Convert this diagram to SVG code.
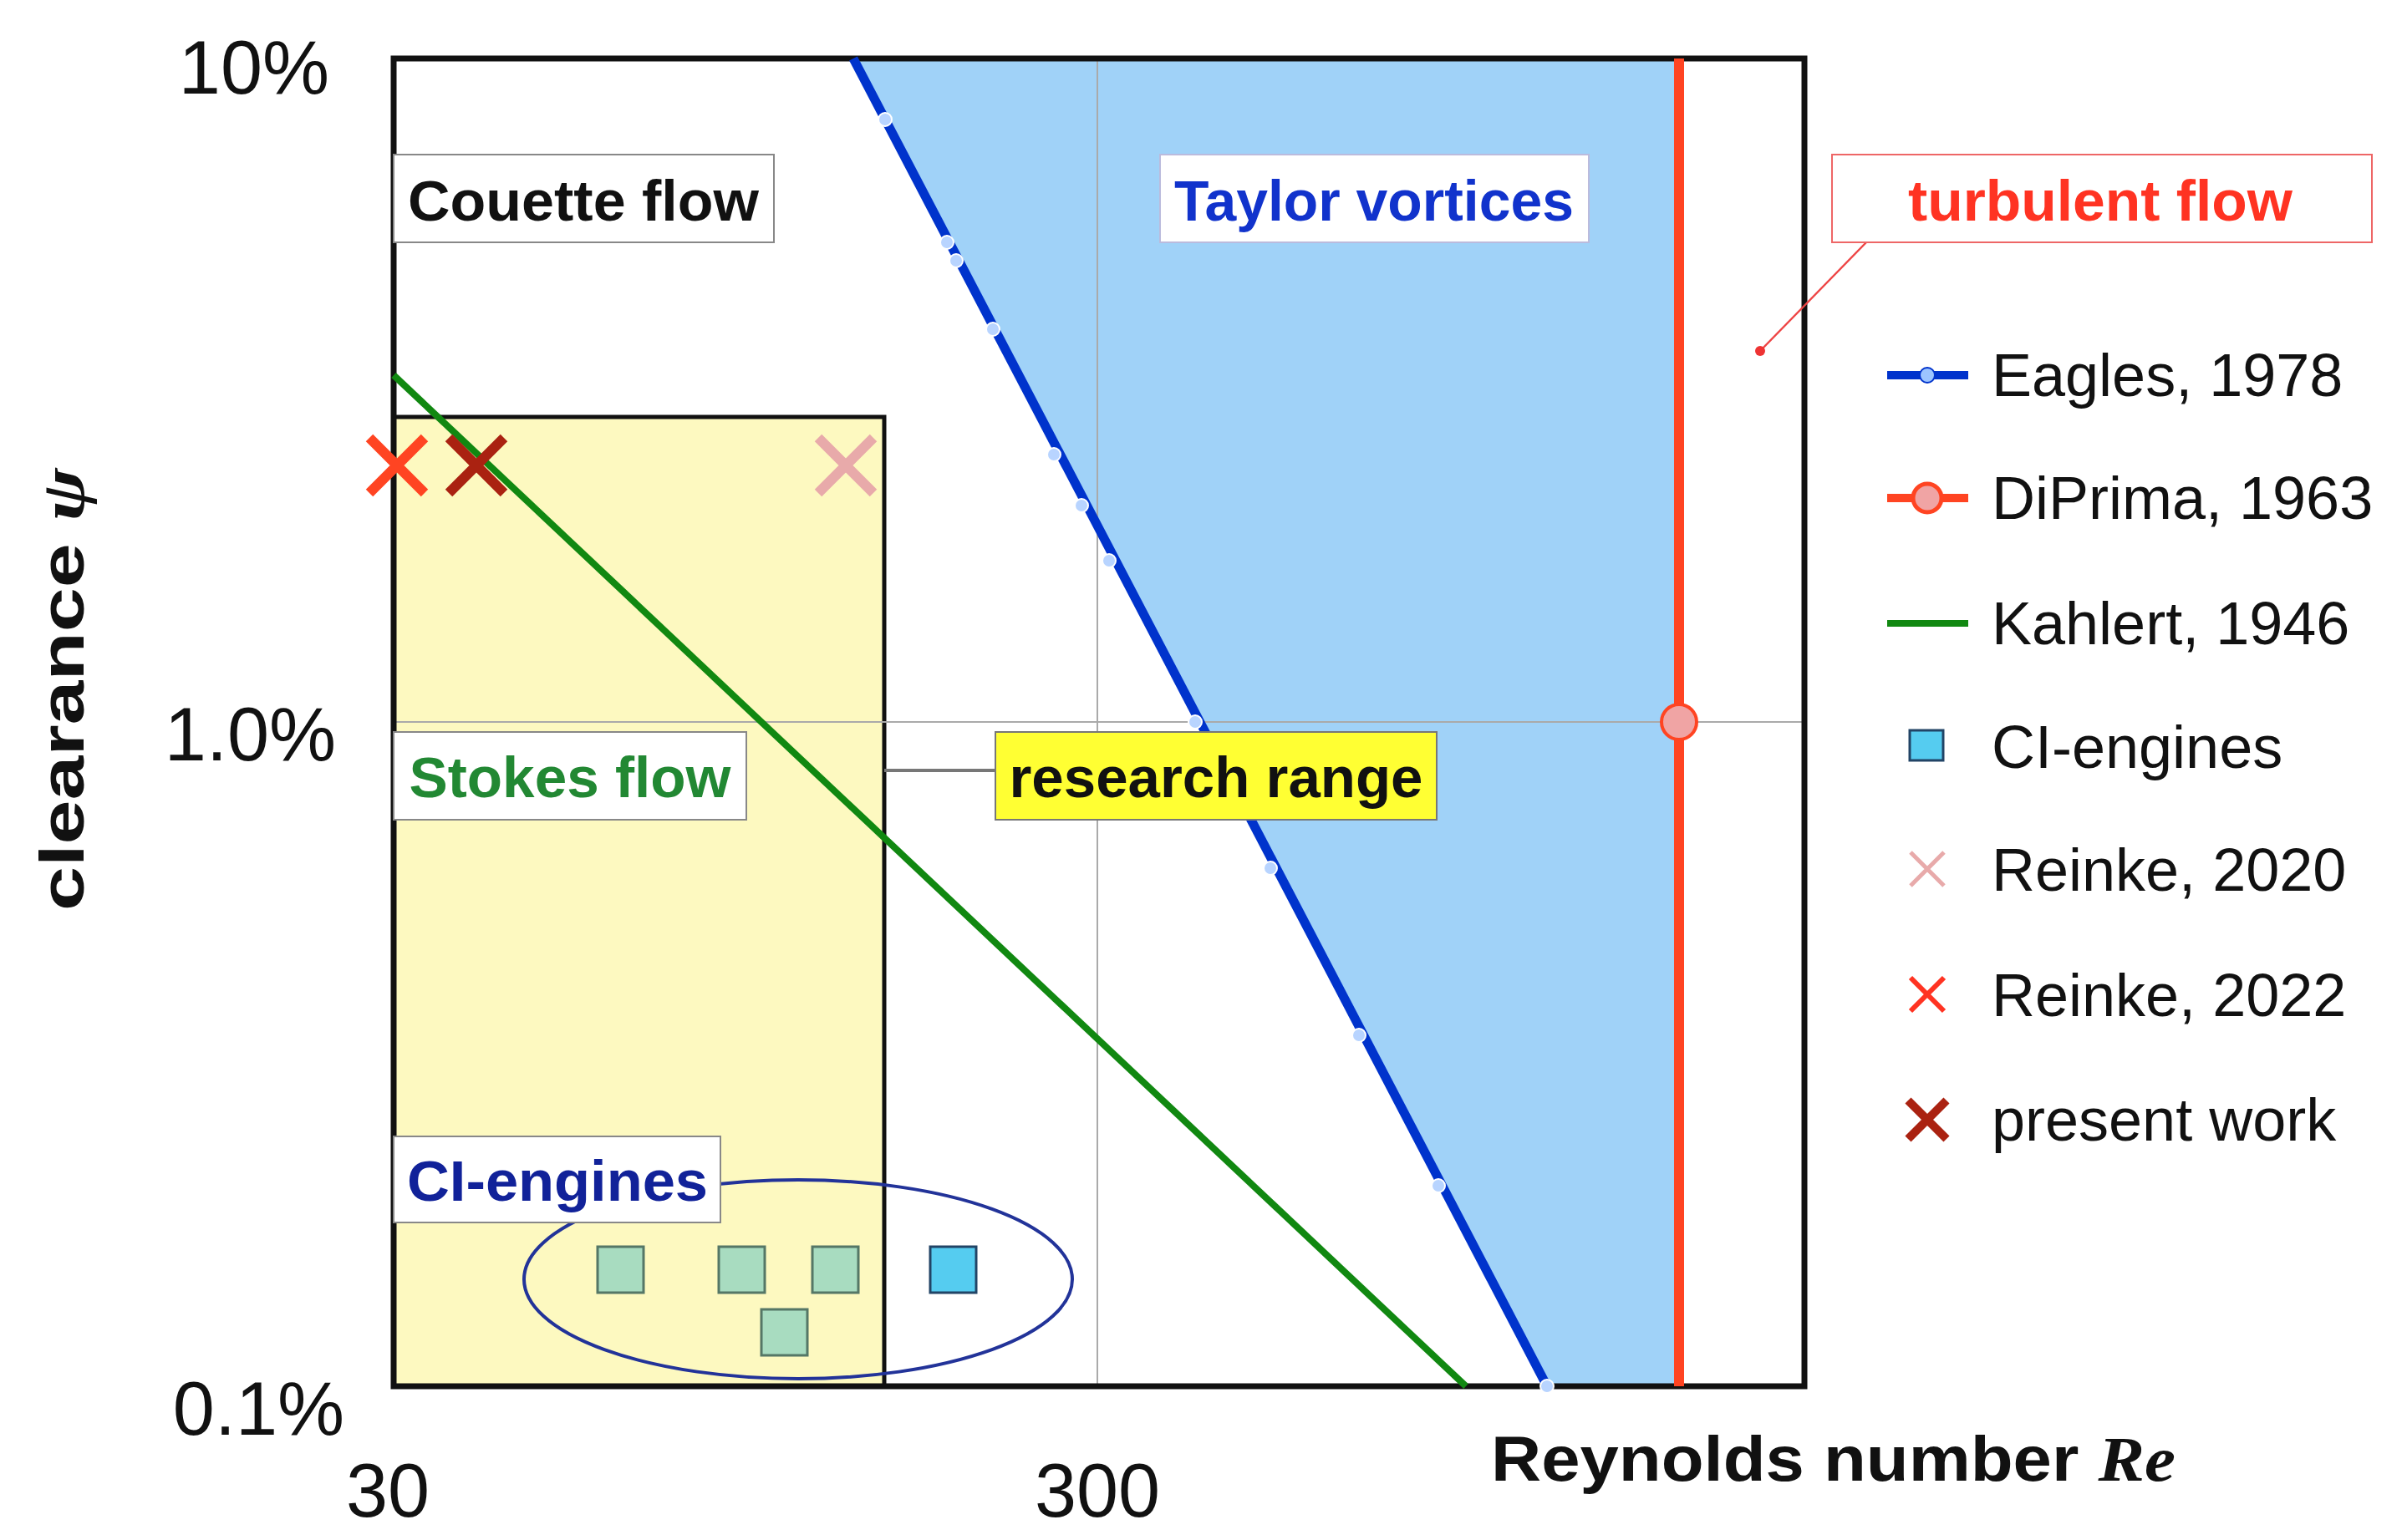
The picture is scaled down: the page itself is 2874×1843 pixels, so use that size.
<svg xmlns="http://www.w3.org/2000/svg" width="2874" height="1843" viewBox="0 0 2874 1843">
<style>
.lab{font-family:"Liberation Sans",Arial,sans-serif;font-weight:bold;font-size:68px;text-anchor:middle}
.tick{font-family:"Liberation Sans",Arial,sans-serif;font-size:90px;fill:#111}
.leg{font-family:"Liberation Sans",Arial,sans-serif;font-size:72px;fill:#111}
.box{fill:#fff;stroke:#888;stroke-width:2}
.sq{stroke:#557766;stroke-width:3;fill:#a8dcc0}
.dot{fill:#b8d4ff;stroke:#ffffff;stroke-width:2}
</style>
<rect width="2874" height="1843" fill="#fff"/>
<g id="regions">
<polygon points="1021,70 2009,70 2009,1659 1851,1659" fill="#a0d2f8"/>
<rect x="471" y="499" width="587" height="1160" fill="#fdf9c0" stroke="#111" stroke-width="5"/>
</g>
<g id="grid" stroke="#aaa" stroke-width="2">
<line x1="1313" y1="70" x2="1313" y2="1659"/>
<line x1="471" y1="864" x2="2159" y2="864"/>
</g>
<rect id="frame" x="471" y="70" width="1688" height="1589" fill="none" stroke="#111" stroke-width="7"/>
<g id="connectors">
<line x1="1058" y1="922" x2="1191" y2="922" stroke="#777" stroke-width="4"/>
<line x1="2233" y1="290" x2="2106" y2="420" stroke="#ee4444" stroke-width="2.5"/>
<circle cx="2106" cy="420" r="6" fill="#ee3333"/>
</g>
<g id="curves">
<line x1="471" y1="449" x2="1754" y2="1659" stroke="#118811" stroke-width="8"/>
<line x1="1021" y1="70" x2="1851" y2="1659" stroke="#0033cc" stroke-width="11"/>
<g class="dot">
<circle cx="1059" cy="143" r="8"/><circle cx="1133" cy="290" r="8"/><circle cx="1144" cy="312" r="8"/><circle cx="1188" cy="394" r="8"/><circle cx="1261" cy="544" r="8"/><circle cx="1294" cy="605" r="8"/><circle cx="1327" cy="671" r="8"/><circle cx="1430" cy="864" r="8"/><circle cx="1520" cy="1039" r="8"/><circle cx="1626" cy="1239" r="8"/><circle cx="1721" cy="1419" r="8"/><circle cx="1851" cy="1659" r="8"/>
</g>
<line x1="2009" y1="70" x2="2009" y2="1659" stroke="#ff4422" stroke-width="12"/>
<circle cx="2009" cy="864" r="21" fill="#f0a4a4" stroke="#ff4422" stroke-width="4"/>
</g>
<g id="points">
<g stroke-width="12" stroke-linecap="butt">
<path d="M442,524 L508,590 M508,524 L442,590" stroke="#ff4422"/>
<path d="M537,524 L603,590 M603,524 L537,590" stroke="#aa2211"/>
<path d="M979,524 L1045,590 M1045,524 L979,590" stroke="#e8aaaa"/>
</g>
<rect class="sq" x="715" y="1492" width="55" height="55"/>
<rect class="sq" x="860" y="1492" width="55" height="55"/>
<rect class="sq" x="972" y="1492" width="55" height="55"/>
<rect class="sq" x="911" y="1567" width="55" height="55"/>
<rect class="sq" x="1113" y="1492" width="55" height="55" style="fill:#55ccf0;stroke:#224466"/>
<ellipse cx="955" cy="1531" rx="328" ry="119" fill="none" stroke="#223399" stroke-width="4"/>
</g>
<g id="couette"><rect class="box" x="471" y="185" width="455" height="105"/><text class="lab" x="698" y="264" fill="#111" textLength="420" lengthAdjust="spacingAndGlyphs">Couette flow</text></g>
<g id="taylor"><rect class="box" x="1388" y="185" width="513" height="105" style="stroke:#bbd"/><text class="lab" x="1644" y="264" fill="#1133cc" textLength="478" lengthAdjust="spacingAndGlyphs">Taylor vortices</text></g>
<g id="turbulent"><rect class="box" x="2192" y="185" width="646" height="105" style="stroke:#ee6666"/><text class="lab" x="2513" y="264" fill="#ff3322" textLength="460" lengthAdjust="spacingAndGlyphs">turbulent flow</text></g>
<g id="stokes"><rect class="box" x="471" y="876" width="422" height="105"/><text class="lab" x="682" y="954" fill="#228833" textLength="385" lengthAdjust="spacingAndGlyphs">Stokes flow</text></g>
<g id="research"><rect x="1191" y="876" width="528" height="105" fill="#ffff33" stroke="#777" stroke-width="2"/><text class="lab" x="1455" y="954" fill="#111" textLength="495" lengthAdjust="spacingAndGlyphs">research range</text></g>
<g id="cilabel"><rect class="box" x="471" y="1360" width="391" height="103"/><text class="lab" x="667" y="1437" fill="#112299" textLength="360" lengthAdjust="spacingAndGlyphs">CI-engines</text></g>
<g id="axes">
<text class="tick" x="394" y="112" text-anchor="end">10%</text>
<text class="tick" x="402" y="910" text-anchor="end">1.0%</text>
<text class="tick" x="412" y="1717" text-anchor="end">0.1%</text>
<text class="tick" x="464" y="1815" text-anchor="middle">30</text>
<text class="tick" x="1313" y="1815" text-anchor="middle">300</text>
<text x="1784" y="1772" font-family="Liberation Sans,Arial,sans-serif" font-weight="bold" font-size="76" fill="#111" textLength="819" lengthAdjust="spacingAndGlyphs">Reynolds number <tspan font-family="Liberation Serif,serif" font-style="italic">Re</tspan></text>
<text transform="translate(100,825) rotate(-90)" text-anchor="middle" font-family="Liberation Sans,Arial,sans-serif" font-weight="bold" font-size="74" fill="#111" textLength="530" lengthAdjust="spacingAndGlyphs">clearance <tspan font-family="Liberation Serif,serif" font-style="italic">ψ</tspan></text>
</g>
<g id="legend">
<line x1="2258" y1="449" x2="2355" y2="449" stroke="#0033cc" stroke-width="10"/><circle cx="2306" cy="449" r="9" fill="#9cc4ff" stroke="#0033cc" stroke-width="2"/>
<text class="leg" x="2383" y="474">Eagles, 1978</text>
<line x1="2258" y1="596" x2="2355" y2="596" stroke="#ff4422" stroke-width="10"/><circle cx="2306" cy="596" r="17" fill="#f0a4a4" stroke="#ff4422" stroke-width="5"/>
<text class="leg" x="2383" y="621">DiPrima, 1963</text>
<line x1="2258" y1="746" x2="2355" y2="746" stroke="#118811" stroke-width="8"/>
<text class="leg" x="2383" y="771">Kahlert, 1946</text>
<rect x="2285" y="874" width="40" height="36" fill="#55ccf0" stroke="#224466" stroke-width="3"/>
<text class="leg" x="2383" y="919">CI-engines</text>
<path d="M2286,1020 L2326,1060 M2326,1020 L2286,1060" stroke="#e8aaaa" stroke-width="5"/>
<text class="leg" x="2383" y="1066">Reinke, 2020</text>
<path d="M2286,1170 L2326,1210 M2326,1170 L2286,1210" stroke="#ff3322" stroke-width="6"/>
<text class="leg" x="2383" y="1216">Reinke, 2022</text>
<path d="M2283,1317 L2329,1363 M2329,1317 L2283,1363" stroke="#aa2211" stroke-width="10"/>
<text class="leg" x="2383" y="1365">present work</text>
</g>
</svg>
